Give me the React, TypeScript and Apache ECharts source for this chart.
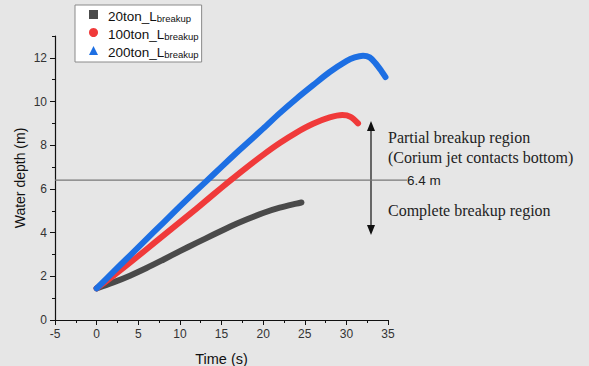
import React, { useEffect, useRef } from "react";
import * as echarts from "echarts";

const seriesNames = ["20ton_L", "100ton_L", "200ton_L"];
const subscript = "breakup";

const t20 = [0, 2, 4, 6, 8, 10, 12, 14, 16, 18, 20, 22, 24, 24.6];
const d20 = [1.45, 1.72, 2.03, 2.38, 2.76, 3.15, 3.53, 3.9, 4.27, 4.6, 4.9, 5.14, 5.33, 5.38];

const t100 = [0, 2, 4, 6, 8, 10, 12, 14, 16, 18, 20, 22, 24, 26, 28, 29.5, 30.5, 31.4];
const d100 = [1.45, 2.02, 2.62, 3.24, 3.86, 4.48, 5.1, 5.74, 6.37, 6.98, 7.56, 8.1, 8.58, 8.98, 9.27, 9.38, 9.3, 9.0];

const t200 = [0, 2, 4, 6, 8, 10, 12, 14, 16, 18, 20, 22, 24, 26, 28, 30, 31, 32, 32.8, 33.5, 34.2, 34.7];
const d200 = [1.45, 2.2, 2.95, 3.7, 4.45, 5.2, 5.93, 6.65, 7.37, 8.07, 8.76, 9.47, 10.13, 10.75, 11.35, 11.85, 12.02, 12.1, 12.02, 11.75, 11.4, 11.12];

const yMajor = [0, 2, 4, 6, 8, 10, 12];
const yMinor = [1, 3, 5, 7, 9, 11, 13];
const thresholdDepth = 6.4;
const thresholdLabel = "6.4 m";
const partialText = "Partial breakup region";
const partialText2 = "(Corium jet contacts bottom)";
const completeText = "Complete breakup region";

const colors = ["#4a4a4a", "#f03a3a", "#1d6fe3"];
const icons = ["rect", "circle", "triangle"];

const zip = (a: number[], b: number[]) => a.map((v, i) => [v, b[i]]);

export default function App() {
  const ref = useRef<HTMLDivElement>(null);
  useEffect(() => {
    document.body.style.margin = "0";
    const chart = echarts.init(ref.current!, null, { renderer: "svg" });
    const axisLabelStyle = { color: "#333", fontSize: 12, fontFamily: "Liberation Sans" };
    const option: any = {
      animation: false,
      backgroundColor: "#e6e6e6",
      grid: { left: 55, top: 36, right: 201, bottom: 46, containLabel: false, outerBoundsMode: "none" },
      legend: {
        orient: "vertical",
        left: 75,
        top: 5,
        backgroundColor: "#ffffff",
        borderColor: "#8a8a8a",
        borderWidth: 1,
        borderRadius: 0,
        padding: [3, 3, 3, 14],
        itemGap: 3,
        itemWidth: 9,
        itemHeight: 9,
        data: seriesNames.map((n, i) => ({ name: n, icon: icons[i] })),
        formatter: (name: string) => `{a|${name}}{b|${subscript}}`,
        textStyle: {
          rich: {
            a: { fontSize: 13.5, color: "#111", fontFamily: "Liberation Sans", lineHeight: 17, verticalAlign: "bottom", padding: [0, 0, 0, 5] },
            b: { fontSize: 9.5, color: "#111", fontFamily: "Liberation Sans", lineHeight: 17, verticalAlign: "bottom", padding: [5, 0, 0, 0] },
          },
        },
      },
      xAxis: {
        type: "value",
        min: -5,
        max: 35,
        interval: 5,
        name: "Time (s)",
        nameLocation: "middle",
        nameGap: 31,
        nameMoveOverlap: false,
        nameTextStyle: { color: "#111", fontSize: 14.5, fontFamily: "Liberation Sans" },
        axisLine: { onZero: false, lineStyle: { color: "#111", width: 1.2 } },
        axisTick: { length: 5, lineStyle: { color: "#111" } },
        minorTick: { show: true, splitNumber: 2, length: 3, lineStyle: { color: "#111" } },
        axisLabel: { ...axisLabelStyle, margin: 8 },
        splitLine: { show: false },
      },
      yAxis: [
        {
          type: "value",
          min: 0,
          max: 13,
          name: "Water depth (m)",
          nameLocation: "middle",
          nameGap: 28,
          nameMoveOverlap: false,
          nameTextStyle: { color: "#111", fontSize: 14, fontFamily: "Liberation Sans" },
          axisLine: { show: true, onZero: false, lineStyle: { color: "#111", width: 1.2 } },
          axisTick: { show: true, length: 5, customValues: yMajor, lineStyle: { color: "#111" } },
          axisLabel: { ...axisLabelStyle, margin: 8, customValues: yMajor },
          splitLine: { show: false },
        },
        {
          type: "value",
          min: 0,
          max: 13,
          position: "left",
          axisLine: { show: false, onZero: false },
          axisTick: { show: true, length: 3, customValues: yMinor, lineStyle: { color: "#111" } },
          axisLabel: { show: false },
          splitLine: { show: false },
        },
      ],
      series: [
        { name: seriesNames[0], data: zip(t20, d20) },
        { name: seriesNames[1], data: zip(t100, d100) },
        { name: seriesNames[2], data: zip(t200, d200) },
      ].map((s, i) => ({
        ...s,
        type: "line",
        smooth: 0.3,
        showSymbol: false,
        symbol: "none",
        color: colors[i],
        lineStyle: { width: 6, color: colors[i], cap: "round", join: "round" },
      })),
    };
    chart.setOption(option);

    const [x0, yT] = chart.convertToPixel({ gridIndex: 0 }, [-5, thresholdDepth]) as number[];
    const arrowX = 371;
    const arrowTop = 121;
    const arrowBot = 235;
    const serif = "16px 'Liberation Serif'";
    chart.setOption({
      graphic: [
        { type: "line", shape: { x1: x0, y1: yT, x2: 407, y2: yT }, style: { stroke: "#777", lineWidth: 1.2 }, z: 1 },
        { type: "text", x: 407, y: yT, style: { text: thresholdLabel, fill: "#222", font: "13.5px 'Liberation Sans'", textVerticalAlign: "middle" } },
        { type: "line", shape: { x1: arrowX, y1: arrowTop + 6, x2: arrowX, y2: arrowBot - 6 }, style: { stroke: "#111", lineWidth: 1.2 } },
        { type: "polygon", shape: { points: [[arrowX, arrowTop], [arrowX - 4, arrowTop + 10], [arrowX + 4, arrowTop + 10]] }, style: { fill: "#111" } },
        { type: "polygon", shape: { points: [[arrowX, arrowBot], [arrowX - 4, arrowBot - 10], [arrowX + 4, arrowBot - 10]] }, style: { fill: "#111" } },
        { type: "text", x: 388, y: 137, style: { text: partialText, fill: "#222", font: serif, textVerticalAlign: "middle" } },
        { type: "text", x: 388, y: 157, style: { text: partialText2, fill: "#222", font: serif, textVerticalAlign: "middle" } },
        { type: "text", x: 388, y: 210, style: { text: completeText, fill: "#222", font: serif, textVerticalAlign: "middle" } },
      ],
    });
    return () => chart.dispose();
  }, []);
  return <div ref={ref} style={{ position: "absolute", left: 0, top: 0, width: 589, height: 366 }} />;
}
